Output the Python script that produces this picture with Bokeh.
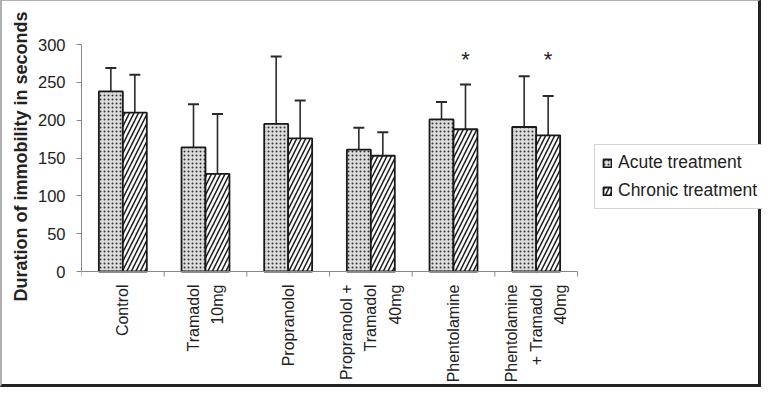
import math
from bokeh.plotting import figure
from bokeh.models import (ColumnDataSource, Range1d, FixedTicker, Whisker, TeeHead,
                          Legend, LegendItem, Title)
from bokeh.core.properties import value
from bokeh.embed import file_html
from bokeh.resources import INLINE

categories = ["Control", "Tramadol\n10mg", "Propranolol", "Propranolol +\nTramadol\n40mg",
              "Phentolamine", "Phentolamine\n+ Tramadol\n40mg"]
acute_mean = [238, 164, 195, 161, 201, 191]
acute_sd = [31, 57, 89, 29, 23, 67]
chronic_mean = [210, 129, 176, 153, 188, 180]
chronic_sd = [50, 79, 50, 31, 59, 52]
significant = [False, False, False, False, True, True]
star_level = 280
y_ticks = [0, 50, 100, 150, 200, 250, 300]
y_max = 300
y_title = "Duration of immobility in seconds"

FONT = "Liberation Sans"
n = len(categories)
centers = [i + 0.5 for i in range(n)]
boundaries = list(range(n + 1))
off = 0.145
bw = 0.29

# ---- layout (pixels) ----
W, H = 761, 387
frame_left, frame_right, axis_right = 79, 760, 575
frame_top, zero_px, frame_bottom = 43, 270, 383
x_end = n * (frame_right - frame_left) / (axis_right - frame_left)
px_per_unit = (zero_px - frame_top) / y_max
y_start = -(frame_bottom - zero_px) / px_per_unit
tick_units = 5 / px_per_unit

acute = ColumnDataSource(dict(
    x=[c - off for c in centers], top=acute_mean,
    upper=[m + s for m, s in zip(acute_mean, acute_sd)],
    lower=[m - s for m, s in zip(acute_mean, acute_sd)]))
chronic = ColumnDataSource(dict(
    x=[c + off for c in centers], top=chronic_mean,
    upper=[m + s for m, s in zip(chronic_mean, chronic_sd)],
    lower=[m - s for m, s in zip(chronic_mean, chronic_sd)]))

p = figure(width=W, height=H, output_backend="svg", toolbar_location=None,
           x_range=Range1d(0, x_end), y_range=Range1d(y_start, y_max),
           x_axis_location=None,
           min_border_left=frame_left, min_border_right=W - frame_right,
           min_border_top=frame_top, min_border_bottom=H - frame_bottom)
p.styles = {"border-left": "2px solid #b0b0b0", "border-top": "1px solid #b0b0b0",
            "border-right": "3px solid #222", "border-bottom": "3px solid #222",
            "box-sizing": "border-box"}
p.grid.visible = False
p.outline_line_color = None
p.background_fill_color = "white"

r_a = p.vbar(x="x", top="top", width=bw, source=acute, fill_color="#dcdcdc",
             line_color="#1a1a1a", line_width=1.8, hatch_pattern="dot",
             hatch_color="#333333", hatch_scale=4, hatch_weight=1)
r_c = p.vbar(x="x", top="top", width=bw, source=chronic, fill_color="white",
             line_color="#1a1a1a", line_width=1.8, hatch_pattern="right_diagonal_line",
             hatch_color="#222222", hatch_scale=9, hatch_weight=1.6)

for src in (acute, chronic):
    w = Whisker(base="x", upper="upper", lower="lower", source=src,
                line_color="#2a2a2a", line_width=1.6,
                upper_head=TeeHead(size=11, line_color="#2a2a2a", line_width=2),
                lower_head=TeeHead(size=11, line_color="#2a2a2a", line_width=2))
    p.add_layout(w)

star_x = [c + off for c, s in zip(centers, significant) if s]
star_y = [star_level for _ in star_x]
p.text(x=star_x, y=star_y, text=["*"] * len(star_x), text_align="center",
       text_baseline="middle", text_font=value(FONT), text_font_size="22px",
       text_color="#222")

# category axis: line at y=0, ticks at category boundaries, rotated labels
p.segment(x0=[0], y0=[0], x1=[n], y1=[0], line_color="#888", line_width=1)
p.segment(x0=boundaries, y0=[0] * len(boundaries), x1=boundaries,
          y1=[-tick_units] * len(boundaries), line_color="#888", line_width=1)
p.text(x=centers, y=[0] * n, text=categories, angle=math.pi / 2,
       text_align="right", text_baseline="middle", y_offset=13,
       text_font=value(FONT), text_font_size="16px", text_line_height=1.45,
       text_color="#222")

# y axis
ya = p.yaxis[0]
ya.bounds = (0, y_max)
ya.ticker = FixedTicker(ticks=y_ticks)
ya.major_label_text_font = FONT
ya.major_label_text_font_size = "16.5px"
ya.major_label_text_color = "#222"
ya.major_label_standoff = 11
ya.major_tick_in = 0
ya.major_tick_out = 5
ya.minor_tick_line_color = None
ya.axis_line_color = "#888"
ya.major_tick_line_color = "#888"

# y axis title, placed along the axis' value span (not the whole frame)
p.add_layout(Title(text=y_title, align="left", offset=frame_bottom - 300,
                   text_font=FONT, text_font_style="bold", text_font_size="18px",
                   text_color="#222", standoff=8), "left")

legend = Legend(items=[LegendItem(label="Acute treatment", renderers=[r_a]),
                       LegendItem(label="Chronic treatment", renderers=[r_c])],
                location=(592 - frame_left, frame_bottom - 208), label_text_font=FONT,
                label_text_font_size="17.5px",
                label_text_color="#222", glyph_width=10, glyph_height=10,
                border_line_color="#aaa", padding=7, spacing=7, margin=0,
                label_standoff=6, background_fill_alpha=1)
p.add_layout(legend, "center")

open("out.html", "w").write(file_html(p, INLINE))
